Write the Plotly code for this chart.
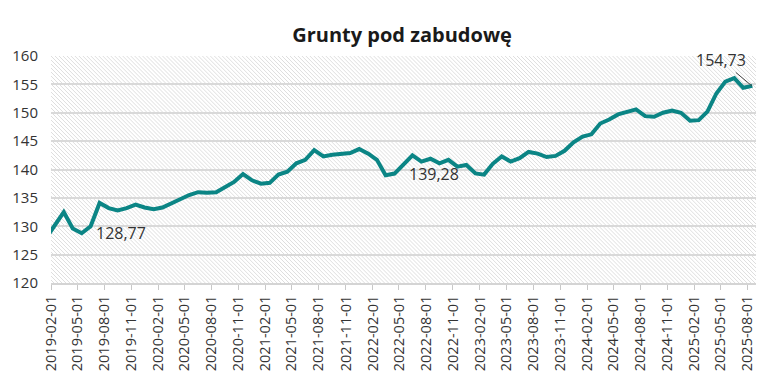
import base64
import plotly.graph_objects as go

title_text = "Grunty pod zabudowę"

months = [
    "2019-01", "2019-02", "2019-03", "2019-04", "2019-05", "2019-06", "2019-07", "2019-08", "2019-09", "2019-10", "2019-11", "2019-12",
    "2020-01", "2020-02", "2020-03", "2020-04", "2020-05", "2020-06", "2020-07", "2020-08", "2020-09", "2020-10", "2020-11", "2020-12",
    "2021-01", "2021-02", "2021-03", "2021-04", "2021-05", "2021-06", "2021-07", "2021-08", "2021-09", "2021-10", "2021-11", "2021-12",
    "2022-01", "2022-02", "2022-03", "2022-04", "2022-05", "2022-06", "2022-07", "2022-08", "2022-09", "2022-10", "2022-11", "2022-12",
    "2023-01", "2023-02", "2023-03", "2023-04", "2023-05", "2023-06", "2023-07", "2023-08", "2023-09", "2023-10", "2023-11", "2023-12",
    "2024-01", "2024-02", "2024-03", "2024-04", "2024-05", "2024-06", "2024-07", "2024-08", "2024-09", "2024-10", "2024-11", "2024-12",
    "2025-01", "2025-02", "2025-03", "2025-04", "2025-05", "2025-06", "2025-07", "2025-08",
]

values = [
    128.0, 130.2, 132.5, 129.6, 128.77, 130.0, 134.1, 133.2, 132.8, 133.2, 133.8, 133.3,
    133.0, 133.3, 134.0, 134.7, 135.5, 136.0, 135.9, 136.0, 136.9, 137.8, 139.2, 138.1,
    137.5, 137.65, 139.1, 139.6, 141.1, 141.7, 143.4, 142.3, 142.6, 142.8, 142.9, 143.6,
    142.8, 141.7, 139.0, 139.28, 140.9, 142.5, 141.4, 141.9, 141.1, 141.7, 140.5, 140.8,
    139.3, 139.1, 141.0, 142.3, 141.4, 142.0, 143.1, 142.8, 142.2, 142.4, 143.3, 144.8,
    145.8, 146.2, 148.1, 148.8, 149.7, 150.2, 150.6, 149.4, 149.3, 150.0, 150.4, 150.0,
    148.6, 148.7, 150.2, 153.4, 155.5, 156.1, 154.4, 154.73,
]

# labelled points: (month, value, label text)
labels_plain = [("2019-05", 128.77, "128,77"), ("2022-04", 139.28, "139,28")]
label_arrow = ("2025-08", 154.73, "154,73")

y_ticks = [120, 125, 130, 135, 140, 145, 150, 155, 160]

line_color = "#0b8585"
text_color = "#333333"

svg = (
    '<svg xmlns="http://www.w3.org/2000/svg" width="708" height="227">'
    '<defs><pattern id="p" width="4" height="4" patternUnits="userSpaceOnUse">'
    '<path d="M-1,3 l2,2 M0,0 l4,4 M3,-1 l2,2" stroke="#dedede" stroke-width="1"/>'
    '</pattern></defs><rect width="100%" height="100%" fill="url(#p)"/></svg>'
)
svg_uri = "data:image/svg+xml;base64," + base64.b64encode(svg.encode()).decode()

def mid(m):
    return m + "-15"

fig = go.Figure()
fig.add_trace(go.Scatter(
    x=months, y=values, mode="lines",
    xperiod="M1", xperiodalignment="middle",
    line=dict(color=line_color, width=4),
    hoverinfo="x+y", showlegend=False,
))

for m, v, t in labels_plain:
    fig.add_annotation(x=mid(m), y=v, text=t, showarrow=False,
                       xanchor="left", yanchor="middle", xshift=13,
                       font=dict(size=16, color=text_color, family="Open Sans"))

m, v, t = label_arrow
fig.add_annotation(x=mid(m), y=v, text=t, showarrow=True, arrowhead=0,
                   arrowwidth=1, arrowcolor="#444444", ax=-31, ay=-26,
                   standoff=0, font=dict(size=16, color=text_color, family="Open Sans"))

fig.add_layout_image(dict(source=svg_uri, xref="paper", yref="paper", x=0, y=1,
                          sizex=1, sizey=1, sizing="stretch", layer="below",
                          xanchor="left", yanchor="top"))

fig.update_layout(
    width=780, height=388,
    margin=dict(l=48, r=24, t=56, b=105),
    paper_bgcolor="white", plot_bgcolor="white",
    font=dict(family="Open Sans", color=text_color, size=14),
    title=dict(text="<b>" + title_text + "</b>", x=0.5154, xanchor="center",
               y=0.91, yanchor="middle", font=dict(size=20, color="#1a1a1a")),
)
fig.update_xaxes(
    type="date", range=["2019-02-01", "2025-08-29"],
    tick0="2019-02-01", dtick="M3", tickformat="%Y-%m-%d", tickangle=-90,
    ticks="outside", ticklen=5, tickcolor="#c8c8c8", tickwidth=1,
    showgrid=False, showline=True, linecolor="#d4d4d4", linewidth=1.5,
    tickfont=dict(size=14.5, color=text_color), zeroline=False,
)
fig.update_yaxes(
    range=[120, 160], tickvals=y_ticks,
    showgrid=True, gridcolor="#d9d9d9", gridwidth=1.5, zeroline=False,
    tickfont=dict(size=15, color=text_color), ticks="", ticklabelstandoff=12,
)

fig.write_html("out.html")
